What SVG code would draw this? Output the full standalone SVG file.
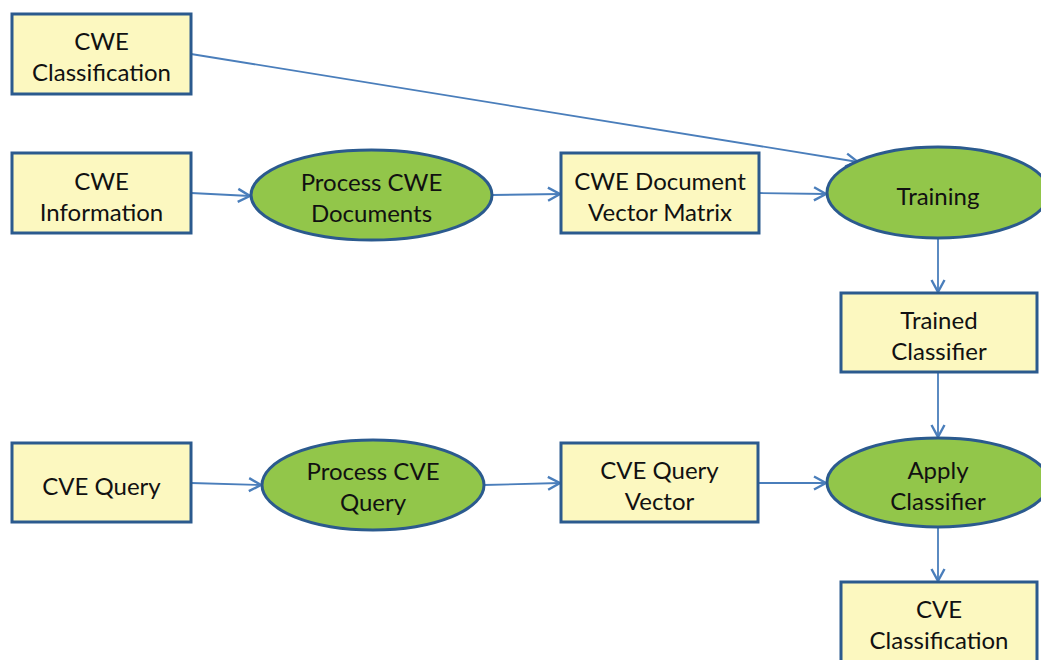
<svg xmlns="http://www.w3.org/2000/svg" width="1041" height="660" viewBox="0 0 1041 660">
<defs>
<style>
.box{fill:#FCF8C0;stroke:#2B5A8E;stroke-width:3}
.ell{fill:#92C64A;stroke:#2B5A8E;stroke-width:3}
.t{font-family:Lato,"Open Sans",sans-serif;font-size:24px;fill:#111;text-anchor:middle;dominant-baseline:central}
.c{stroke:#4A7EBB;stroke-width:1.8;fill:none;marker-end:url(#ah)}
</style>
<marker id="ah" viewBox="0 0 16 16" refX="14" refY="8" markerWidth="16" markerHeight="16" markerUnits="userSpaceOnUse" orient="auto">
<path d="M2,1.5 L14,8 L2,14.5" fill="none" stroke="#4A7EBB" stroke-width="2.4"/>
</marker>
</defs>
<rect width="1041" height="660" fill="#fff"/>
<g id="connectors">
<line class="c" x1="191" y1="54" x2="858" y2="162"/>
<line class="c" x1="191" y1="193" x2="250" y2="196"/>
<line class="c" x1="492" y1="195" x2="560" y2="194"/>
<line class="c" x1="759" y1="193" x2="826" y2="194"/>
<line class="c" x1="938" y1="238" x2="938" y2="292"/>
<line class="c" x1="938" y1="372" x2="938" y2="437"/>
<line class="c" x1="191" y1="483" x2="261" y2="485"/>
<line class="c" x1="484" y1="485" x2="560" y2="483"/>
<line class="c" x1="758" y1="483" x2="826" y2="483"/>
<line class="c" x1="938" y1="527" x2="938" y2="581"/>
</g>
<g id="cwe-classification">
<rect class="box" x="12" y="14" width="179" height="80"/>
<text class="t" x="101.5" y="40">CWE</text>
<text class="t" x="101.5" y="71">Classification</text>
</g>
<g id="cwe-information">
<rect class="box" x="12" y="153" width="179" height="80"/>
<text class="t" x="101.5" y="180">CWE</text>
<text class="t" x="101.5" y="211">Information</text>
</g>
<g id="process-cwe">
<ellipse class="ell" cx="371.5" cy="195" rx="120.5" ry="45"/>
<text class="t" x="371.5" y="181">Process CWE</text>
<text class="t" x="371.5" y="212">Documents</text>
</g>
<g id="cwe-matrix">
<rect class="box" x="561" y="153" width="198" height="80"/>
<text class="t" x="660" y="180">CWE Document</text>
<text class="t" x="660" y="211">Vector Matrix</text>
</g>
<g id="training">
<ellipse class="ell" cx="938" cy="192.5" rx="111" ry="45.5"/>
<text class="t" x="938" y="195">Training</text>
</g>
<g id="trained-classifier">
<rect class="box" x="841" y="293" width="196" height="79"/>
<text class="t" x="939" y="319">Trained</text>
<text class="t" x="939" y="350">Classifier</text>
</g>
<g id="cve-query">
<rect class="box" x="12" y="443" width="179" height="79"/>
<text class="t" x="101.5" y="485">CVE Query</text>
</g>
<g id="process-cve">
<ellipse class="ell" cx="373" cy="485" rx="111" ry="45"/>
<text class="t" x="373" y="470">Process CVE</text>
<text class="t" x="373" y="501">Query</text>
</g>
<g id="cve-vector">
<rect class="box" x="561" y="443" width="197" height="79"/>
<text class="t" x="659.5" y="469">CVE Query</text>
<text class="t" x="659.5" y="500">Vector</text>
</g>
<g id="apply-classifier">
<ellipse class="ell" cx="938" cy="482.5" rx="111" ry="44.5"/>
<text class="t" x="938" y="469">Apply</text>
<text class="t" x="938" y="500">Classifier</text>
</g>
<g id="cve-classification">
<rect class="box" x="841" y="582" width="196" height="90"/>
<text class="t" x="939" y="608">CVE</text>
<text class="t" x="939" y="639">Classification</text>
</g>
</svg>
